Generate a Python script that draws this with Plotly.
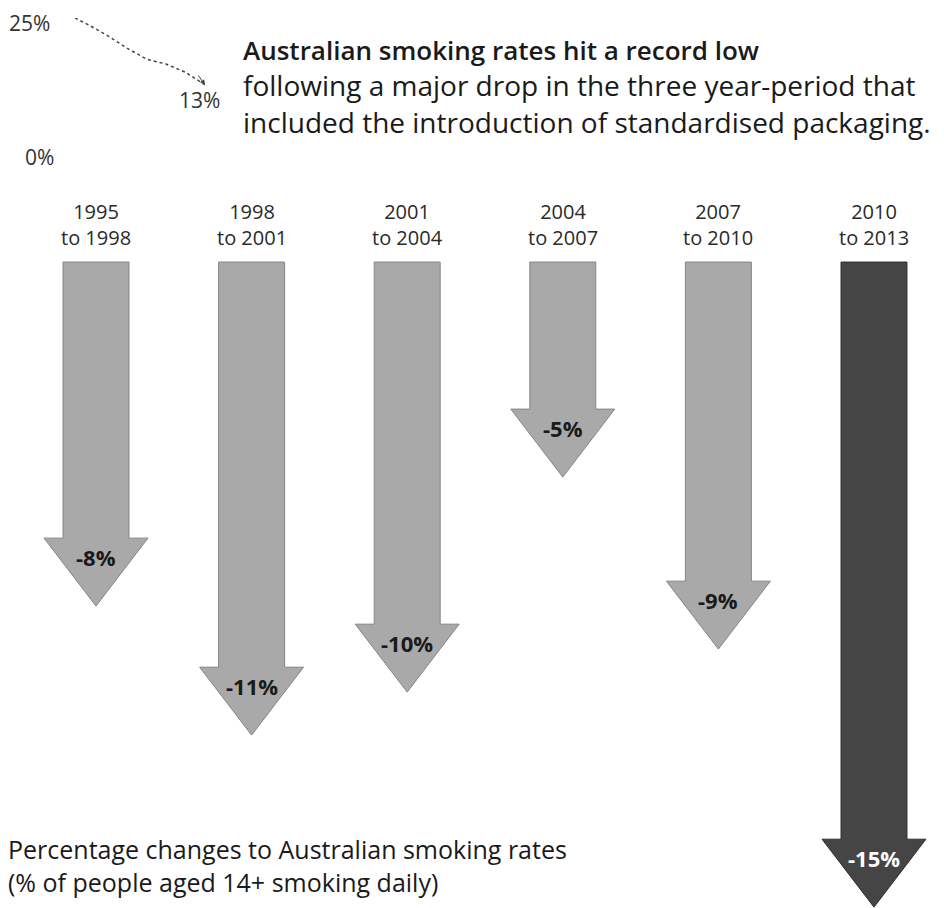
import plotly.graph_objects as go

# ---- data ----
periods = ["1995<br>to 1998", "1998<br>to 2001", "2001<br>to 2004",
           "2004<br>to 2007", "2007<br>to 2010", "2010<br>to 2013"]
changes = [-8, -11, -10, -5, -9, -15]
change_labels = ["-8%", "-11%", "-10%", "-5%", "-9%", "-15%"]

trend_years = [1993, 1995, 1998, 2001, 2004, 2007, 2010, 2013]
trend_rates = [25.0, 23.8, 21.8, 19.5, 17.5, 16.6, 15.1, 12.8]

title_lines = ["Australian smoking rates hit a record low",
               "following a major drop in the three year-period that",
               "included the introduction of standardised packaging."]
foot_lines = ["Percentage changes to Australian smoking rates",
              "(% of people aged 14+ smoking daily)"]

W, H = 944, 908
def px(x):
    return x / W
def py(y):
    return 1 - y / H

FONT = "Open Sans"
fig = go.Figure()

# ---- arrows ----
w_shaft, w_head, head_len = 0.212, 0.334, 1.58
for i, (v, lab) in enumerate(zip(changes, change_labels)):
    dark = (i == len(changes) - 1)
    xs = [i - w_shaft, i + w_shaft, i + w_shaft, i + w_head, i,
          i - w_head, i - w_shaft, i - w_shaft]
    ys = [0, 0, v + head_len, v + head_len, v, v + head_len, v + head_len, 0]
    fig.add_trace(go.Scatter(
        x=xs, y=ys, mode="lines", fill="toself",
        fillcolor="#454545" if dark else "#a9a9a9",
        line=dict(color="#303030" if dark else "#858585", width=1),
        hoverinfo="skip", showlegend=False, xaxis="x", yaxis="y"))
    fig.add_annotation(x=i, y=v + 1.14, xref="x", yref="y", text=lab,
                       showarrow=False, yanchor="middle",
                       font=dict(family=FONT, size=22,
                                 color="white" if dark else "#1a1a1a",
                                 weight="bold"))
    fig.add_annotation(x=i, y=0.88, xref="x", yref="y", text=periods[i],
                       showarrow=False, yanchor="middle",
                       font=dict(family=FONT, size=20, color="#2a2a2a"))

# ---- mini trend chart ----
fig.add_trace(go.Scatter(
    x=trend_years, y=trend_rates, mode="lines",
    line=dict(color="#444", width=1.5, dash="dot"),
    hoverinfo="skip", showlegend=False, xaxis="x2", yaxis="y2"))
fig.add_annotation(x=trend_years[-1], y=trend_rates[-1], xref="x2", yref="y2",
                   ax=trend_years[-2] + 1.8, ay=trend_rates[-2] - 0.3,
                   axref="x2", ayref="y2", text="", showarrow=True,
                   arrowhead=2, arrowsize=1, arrowwidth=1, arrowcolor="#444")
fig.add_annotation(x=px(7), y=py(23), xref="paper", yref="paper", text="25%",
                   showarrow=False, xanchor="left", yanchor="middle",
                   font=dict(family=FONT, size=21, color="#333"))
fig.add_annotation(x=px(199), y=py(100), xref="paper", yref="paper",
                   text="13%", showarrow=False, xanchor="center",
                   yanchor="middle",
                   font=dict(family=FONT, size=21, color="#333"))
fig.add_annotation(x=px(56), y=py(157), xref="paper", yref="paper", text="0%",
                   showarrow=False, xanchor="right", yanchor="middle",
                   font=dict(family=FONT, size=21, color="#333"))

# ---- title & footnote ----
title_text = ("<span style='font-weight:600;font-size:26px'>" + title_lines[0]
              + "</span><br>" + "<br>".join(title_lines[1:]))
fig.add_annotation(x=px(241), y=py(30), xref="paper", yref="paper",
                   text=title_text, showarrow=False, xanchor="left",
                   yanchor="top", align="left",
                   font=dict(family=FONT, size=28, color="#1a1a1a"))
fig.add_annotation(x=px(6), y=py(865), xref="paper", yref="paper",
                   text="<br>".join(foot_lines), showarrow=False,
                   xanchor="left", yanchor="middle", align="left",
                   font=dict(family=FONT, size=25, color="#1a1a1a"))

fig.update_layout(
    width=W, height=H, margin=dict(l=0, r=0, t=0, b=0),
    paper_bgcolor="white", plot_bgcolor="white",
    xaxis=dict(range=[-0.617, 5.45], visible=False, domain=[0, 1]),
    yaxis=dict(range=[-15.02, 6.093], visible=False, domain=[0, 1]),
    xaxis2=dict(range=[1993, 2013], visible=False,
                domain=[px(75), px(205)], anchor="y2"),
    yaxis2=dict(range=[0, 25], visible=False,
                domain=[py(155), py(18)], anchor="x2"),
)

fig.write_html("out.html")
